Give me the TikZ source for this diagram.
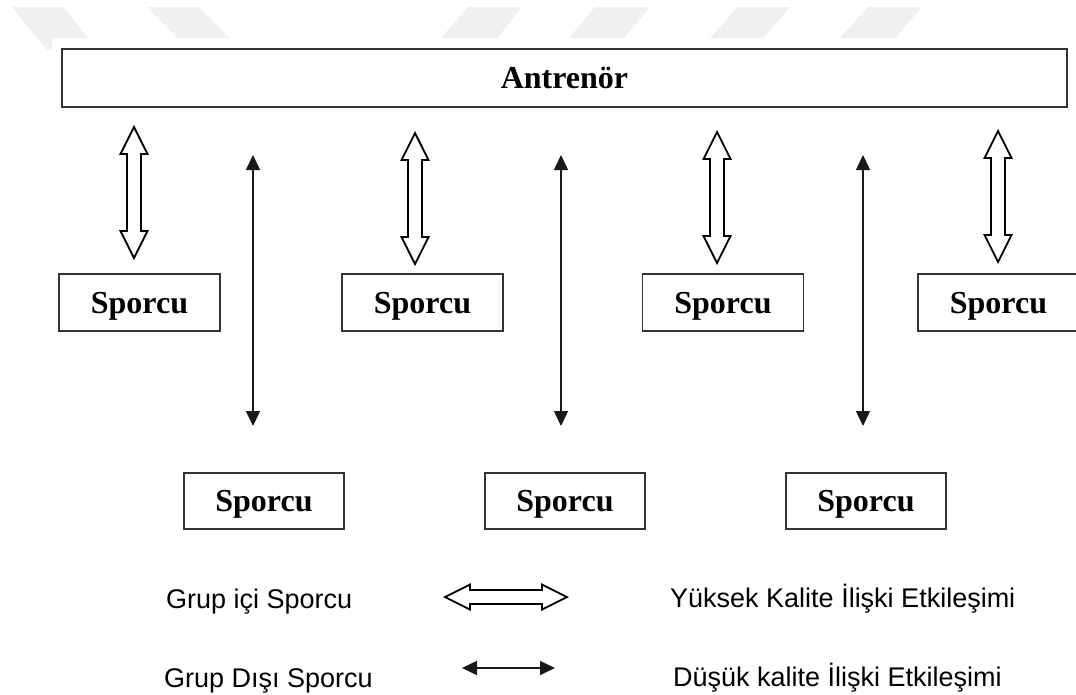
\documentclass[tikz,border=0pt]{standalone}
\usepackage{fontspec}
\setmainfont{Liberation Serif}
\newfontfamily\legendfont{Liberation Sans}
\usetikzlibrary{arrows.meta}
\tikzset{
  wm/.style={fill=black!6, draw=none},
  box/.style={draw=black!80, line width=1.7pt, fill=white, inner sep=0pt,
    text height=22pt, text depth=1pt,
    font=\fontsize{32}{36}\selectfont\bfseries},
  hollow/.style={draw=black, line width=1.8pt, fill=white, line join=miter},
  thinarr/.style={draw=black!90, line width=1.5pt,
    {Triangle[length=15pt,width=14pt]}-{Triangle[length=15pt,width=14pt]}},
  legtext/.style={inner sep=0pt, anchor=base west, font=\legendfont\fontsize{27}{32}\selectfont}
}
\newcommand\vhollow[3]{%
  \draw[hollow] (#1,#2) -- ++(13.5,27) -- ++(-6.5,0) -- (#1+7,#3-27) -- ++(6.5,0)
    -- (#1,#3) -- ++(-13.5,-27) -- ++(6.5,0) -- (#1-7,#2+27) -- ++(-6.5,0) -- cycle;}
\newcommand\hhollow[3]{%
  \draw[hollow] (#2,#1) -- ++(25,-12.5) -- ++(0,5.5) -- (#3-25,#1-7) -- ++(0,-5.5)
    -- (#3,#1) -- ++(-25,12.5) -- ++(0,-5.5) -- (#2+25,#1+7) -- ++(0,5.5) -- cycle;}
\begin{document}
\begin{tikzpicture}[x=1pt,y=-1pt]
\clip (0,0) rectangle (1076,694);
\fill[white] (0,0) rectangle (1076,694);
% watermark
\fill[wm] (12,7) -- (63,7) -- (98,50) -- (47,50) -- cycle;
\fill[wm] (147,7) -- (198,7) -- (230,38) -- (178,38) -- cycle;
\fill[wm] (468,7) -- (522,7) -- (497,38) -- (441,38) -- cycle;
\fill[wm] (595,7) -- (650,7) -- (624,38) -- (569,38) -- cycle;
\fill[wm] (738,7) -- (790,7) -- (763,38) -- (710,38) -- cycle;
\fill[wm] (868,7) -- (922,7) -- (895,38) -- (840,38) -- cycle;
\fill[white] (52,38) rectangle (1076,60);
% coach
\node[box, minimum width=1005pt, minimum height=58pt] (coach) at (564.5,78) {Antrenör};
% top athletes
\node[box, minimum width=161pt, minimum height=57pt] (s1) at (139.5,302.5) {Sporcu};
\node[box, minimum width=161pt, minimum height=57pt] (s2) at (422.5,302.5) {Sporcu};
\node[box, minimum width=161pt, minimum height=57pt] (s3) at (723,302.5) {Sporcu};
\node[box, minimum width=161pt, minimum height=57pt] (s4) at (998.5,302.5) {Sporcu};
% bottom athletes
\node[box, minimum width=160pt, minimum height=56pt] (b1) at (264,501) {Sporcu};
\node[box, minimum width=160pt, minimum height=56pt] (b2) at (565,501) {Sporcu};
\node[box, minimum width=160pt, minimum height=56pt] (b3) at (866,501) {Sporcu};
% hollow arrows
\vhollow{134}{127}{258}
\vhollow{415}{133}{264}
\vhollow{717}{132}{263}
\vhollow{998}{131}{262}
% thin arrows
\coordinate (t1) at (253,155); \coordinate (u1) at (253,426);
\coordinate (t2) at (561,155); \coordinate (u2) at (561,426);
\coordinate (t3) at (863,155); \coordinate (u3) at (863,426);
\draw[thinarr] (t1) -- (u1);
\draw[thinarr] (t2) -- (u2);
\draw[thinarr] (t3) -- (u3);
% legend
\node[legtext] (l1) at (166,608) {Grup içi Sporcu};
\node[legtext] (l2) at (164,687) {Grup Dışı Sporcu};
\node[legtext] (l3) at (670,607) {Yüksek Kalite İlişki Etkileşimi};
\node[legtext] (l4) at (673,686) {Düşük kalite İlişki Etkileşimi};
\hhollow{597}{445}{567}
\coordinate (la) at (462,668); \coordinate (lb) at (555,668);
\draw[thinarr] (la) -- (lb);
\end{tikzpicture}
\end{document}
